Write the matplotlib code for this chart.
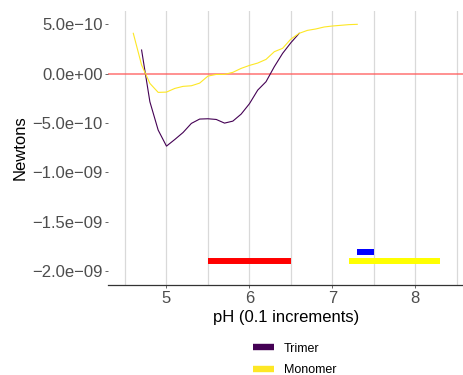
import matplotlib
matplotlib.use("Agg")
import matplotlib.pyplot as plt
from matplotlib.lines import Line2D
import numpy as np

plt.rcParams['font.family'] = ['Liberation Sans', 'DejaVu Sans']

# Data
monomer_ph = [4.6, 4.7, 4.8, 4.9, 5.0, 5.1, 5.2, 5.3, 5.4, 5.5, 5.6, 5.7, 5.8, 5.9,
              6.0, 6.1, 6.2, 6.3, 6.4, 6.5, 6.6, 6.7, 6.8, 6.9, 7.0, 7.1, 7.2, 7.3]
monomer_n = [4.09, 0.88, -0.98, -1.89, -1.86, -1.49, -1.28, -1.22, -0.95, -0.24,
             -0.07, -0.07, 0.14, 0.54, 0.84, 1.08, 1.45, 2.23, 2.57, 3.51,
             4.09, 4.39, 4.53, 4.73, 4.83, 4.90, 4.97, 5.00]
trimer_ph = [4.7, 4.8, 4.9, 5.0, 5.1, 5.2, 5.3, 5.4, 5.5, 5.6, 5.7, 5.8, 5.9,
             6.0, 6.1, 6.2, 6.3, 6.4, 6.5, 6.6]
trimer_n = [2.40, -2.84, -5.71, -7.33, -6.66, -5.95, -5.03, -4.59, -4.56, -4.63,
            -5.00, -4.80, -4.09, -3.04, -1.66, -0.81, 0.71, 2.06, 3.14, 4.09]
monomer_n = [v * 1e-10 for v in monomer_n]
trimer_n = [v * 1e-10 for v in trimer_n]

seg_x0 = [5.5, 7.2, 7.3]
seg_x1 = [6.5, 8.3, 7.5]
seg_y = [-1.9e-9, -1.9e-9, -1.8e-9]
seg_colors = ['#FF0000', '#FFFF00', '#0000FF']

x_ticks = [5, 6, 7, 8]
y_ticks = [5e-10, 0, -5e-10, -1e-9, -1.5e-9, -2e-9]
y_labels = ['5.0e\u221210', '0.0e+00', '\u22125.0e\u221210', '\u22121.0e\u221209',
            '\u22121.5e\u221209', '\u22122.0e\u221209']

W, H = 464, 375
fig = plt.figure(figsize=(W / 100, H / 100), dpi=100)
ax = fig.add_axes([108 / W, (H - 285) / H, 356 / W, (285 - 11) / H])

ax.set_xlim(4.295, 8.587)
ax.set_ylim(-2.139e-9, 0.635e-9)

# grid (vertical only)
for gx in np.arange(4.5, 8.51, 0.5):
    ax.axvline(gx, color='#D9D9D9', lw=0.9, zorder=0)

ax.axhline(0, color='#FF5A5A', alpha=0.85, lw=1.1, zorder=1)

ax.plot(trimer_ph, trimer_n, color='#440154', lw=0.8, zorder=3)
ax.plot(monomer_ph, monomer_n, color='#FDE725', lw=0.8, zorder=3)

for x0, x1, y, c in zip(seg_x0, seg_x1, seg_y, seg_colors):
    ax.plot([x0, x1], [y, y], color=c, lw=4.3, solid_capstyle='butt', zorder=4)

for s in ['top', 'right', 'left']:
    ax.spines[s].set_visible(False)
ax.spines['bottom'].set_color('#333333')
ax.spines['bottom'].set_linewidth(0.9)

ax.set_xticks(x_ticks)
ax.set_xticklabels([str(t) for t in x_ticks])
ax.set_yticks(y_ticks)
ax.set_yticklabels(y_labels)
ax.tick_params(axis='both', labelsize=12, labelcolor='#4D4D4D', color='#4D4D4D',
               length=2.5, width=0.6, pad=1.5)
ax.tick_params(axis='x', pad=2)

ax.set_xlabel('pH (0.1 increments)', fontsize=12, labelpad=3)
ax.set_ylabel('Newtons', fontsize=12)
ax.yaxis.set_label_coords(-80 / 356, 0.5)

handles = [Line2D([0], [0], color='#440154', lw=4.6, solid_capstyle='butt'),
           Line2D([0], [0], color='#FDE725', lw=4.6, solid_capstyle='butt')]
fig.legend(handles, ['Trimer', 'Monomer'], loc='center',
           bbox_to_anchor=(294.5 / W, 1 - 359.5 / H), frameon=False, fontsize=9,
           handlelength=1.68, handletextpad=0.78, labelspacing=0.78, borderpad=0)

fig.savefig('out.png', dpi=100)
